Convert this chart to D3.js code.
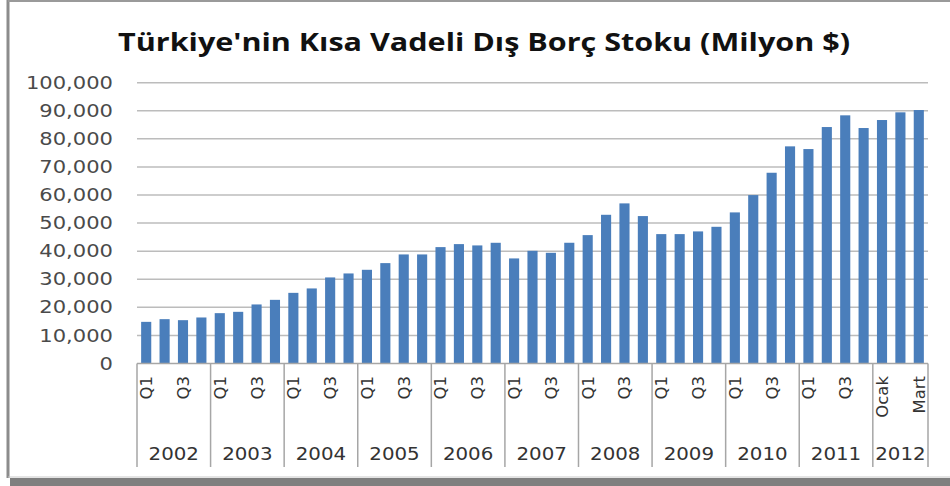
<!DOCTYPE html>
<html>
<head>
<meta charset="utf-8">
<script src="https://cdn.jsdelivr.net/npm/d3@7"></script>
<style>
  html, body { margin: 0; padding: 0; background: #ffffff; }
  svg { display: block; }
</style>
</head>
<body>
<svg id="chart" width="950" height="486"></svg>
<script>
const title = "Türkiye'nin Kısa Vadeli Dış Borç Stoku (Milyon $)";
const years = ["2002","2003","2004","2005","2006","2007","2008","2009","2010","2011","2012"];
const quarterLabels = ["Q1","Q2","Q3","Q4"];
const monthLabels2012 = ["Ocak","Şubat","Mart"];
const values = [
  14830, 15790, 15430, 16390,
  17930, 18400, 21030, 22670,
  25160, 26730, 30650, 32070,
  33370, 35750, 38840, 38840,
  41450, 42520, 42050, 42990,
  37420, 40130, 39420, 43000,
  45720, 52960, 57020, 52500,
  46080, 46080, 47040, 48680,
  53810, 59980, 67930, 77330,
  76370, 84210, 88380, 83860,
  86710, 89450, 90270
];
const yTicks = [0,10000,20000,30000,40000,50000,60000,70000,80000,90000,100000];

(function () {
const cats = [];
years.forEach(yr => {
  const periods = yr === "2012" ? monthLabels2012 : quarterLabels;
  periods.forEach((p, i) => cats.push({ year: yr, period: p, idx: i, key: yr + "-" + p }));
});
cats.forEach((c, i) => c.value = values[i]);

const svg = d3.select("#chart");
const W = 950;
const mLeft = 137, mRight = 928, mTop = 82.7, mBottom = 363.5;

// frame
svg.append("line").attr("x1", 8).attr("x2", 8).attr("y1", 0).attr("y2", 478)
  .attr("stroke", "#8c8c8c").attr("stroke-width", 3);
svg.append("line").attr("x1", 8).attr("x2", W).attr("y1", 1).attr("y2", 1)
  .attr("stroke", "#9a9a9a").attr("stroke-width", 2);
svg.append("rect").attr("x", 10).attr("y", 478).attr("width", W - 10).attr("height", 8)
  .attr("fill", "#7f7f7f");
svg.append("line").attr("x1", 8).attr("x2", W).attr("y1", 477).attr("y2", 477)
  .attr("stroke", "#c8c8c8").attr("stroke-width", 1);

// title
svg.append("text")
  .attr("x", 484).attr("y", 51)
  .attr("text-anchor", "middle")
  .attr("font-family", "'Open Sans', 'DejaVu Sans', sans-serif")
  .attr("font-weight", 700)
  .attr("font-size", 25)
  .attr("textLength", 732)
  .attr("lengthAdjust", "spacingAndGlyphs")
  .attr("fill", "#111")
  .text(title);

const x = d3.scaleBand().domain(cats.map(c => c.key)).range([mLeft, mRight])
  .paddingInner(0.45).paddingOuter(0.225);
const y = d3.scaleLinear().domain([0, 100000]).range([mBottom, mTop]);

// gridlines
svg.append("g").selectAll("line").data(yTicks.filter(t => t > 0)).join("line")
  .attr("x1", mLeft).attr("x2", mRight)
  .attr("y1", d => y(d)).attr("y2", d => y(d))
  .attr("stroke", "#bcbcbc").attr("stroke-width", 1.5);

// y labels
const fmt = d3.format(",");
svg.append("g").selectAll("text").data(yTicks).join("text")
  .attr("transform", d => `translate(113,${y(d)}) scale(1.24,1)`)
  .attr("text-anchor", "end")
  .attr("dy", "0.36em")
  .attr("font-family", "'DejaVu Sans', sans-serif")
  .attr("font-size", 17)
  .attr("fill", "#4a4a4a")
  .text(d => fmt(d));

// bars
svg.append("g").selectAll("rect").data(cats).join("rect")
  .attr("x", d => x(d.key))
  .attr("width", x.bandwidth())
  .attr("y", d => y(d.value))
  .attr("height", d => y(0) - y(d.value))
  .attr("fill", "#4a7ebb");

// axis baseline
svg.append("line").attr("x1", mLeft).attr("x2", mRight).attr("y1", y(0)).attr("y2", y(0))
  .attr("stroke", "#a6a6a6").attr("stroke-width", 1.5);

// period labels (every other)
svg.append("g").selectAll("text").data(cats.filter(c => c.idx % 2 === 0)).join("text")
  .attr("transform", d => `translate(${x(d.key) + x.bandwidth() / 2},376) rotate(-90)`)
  .attr("text-anchor", "end")
  .attr("dy", "0.36em")
  .attr("font-family", "'DejaVu Sans', sans-serif")
  .attr("font-size", 16.5)
  .attr("fill", "#333")
  .text(d => d.period);

// year groups
const groups = years.map(yr => {
  const cs = cats.filter(c => c.year === yr);
  const x0 = x(cs[0].key) - x.step() * x.paddingInner() / 2;
  const x1 = x(cs[cs.length - 1].key) + x.bandwidth() + x.step() * x.paddingInner() / 2;
  return { year: yr, x0, x1 };
});
groups[0].x0 = mLeft;
groups[groups.length - 1].x1 = mRight;

const sepX = [mLeft].concat(groups.map(g => g.x1));
svg.append("g").selectAll("line").data(sepX).join("line")
  .attr("x1", d => d).attr("x2", d => d)
  .attr("y1", y(0)).attr("y2", 467)
  .attr("stroke", "#a6a6a6").attr("stroke-width", 1.5);

svg.append("g").selectAll("text").data(groups).join("text")
  .attr("transform", d => `translate(${(d.x0 + d.x1) / 2},460) scale(1.1,1)`)
  .attr("text-anchor", "middle")
  .attr("font-family", "'DejaVu Sans', sans-serif")
  .attr("font-size", 18)
  .attr("fill", "#333")
  .text(d => d.year);
})();
</script>
</body>
</html>
